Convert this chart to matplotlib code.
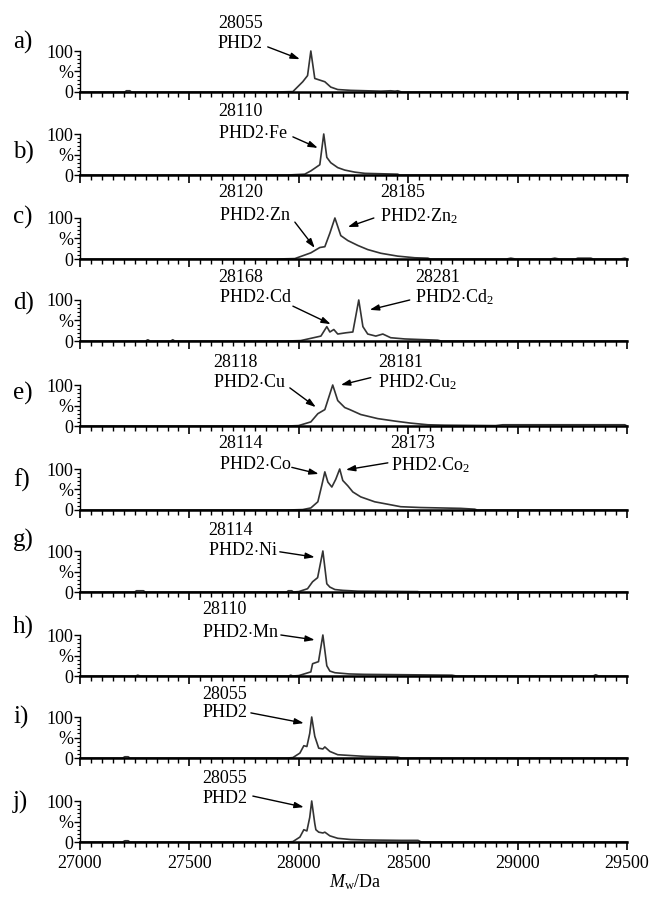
import matplotlib
matplotlib.use("Agg")
import matplotlib.pyplot as plt
from matplotlib.ticker import MultipleLocator

plt.rcParams['font.family'] = ['Liberation Serif', 'DejaVu Serif']
plt.rcParams['mathtext.fontset'] = 'custom'
plt.rcParams['mathtext.rm'] = 'Liberation Serif'
plt.rcParams['mathtext.it'] = 'Liberation Serif:italic'

# ---------------- data ----------------
panel_letters = ["a)", "b)", "c)", "d)", "e)", "f)", "g)", "h)", "i)", "j)"]

a_x = [27000, 27205, 27212, 27228, 27235, 27900, 27973, 28018, 28040, 28055, 28073, 28096, 28119, 28146, 28178, 28238, 28375, 28420, 28440, 28452, 28470, 29500]
a_y = [0, 0, 3, 3, 0, 0, 1, 25, 40, 100, 33, 29, 25, 12, 6, 4, 2, 3, 2, 3, 0, 0]

b_x = [27000, 27950, 28027, 28055, 28096, 28114, 28128, 28146, 28178, 28210, 28256, 28302, 28452, 28460, 29500]
b_y = [0, 0, 2, 10, 25, 100, 43, 30, 18, 12, 7, 4, 2, 0, 0]

c_x = [27000, 27900, 27982, 28055, 28096, 28119, 28142, 28165, 28192, 28224, 28270, 28315, 28375, 28452, 28530, 28590, 28600,
       28950, 28969, 28990, 29150, 29170, 29190, 29265, 29275, 29335, 29345, 29470, 29490, 29500]
c_y = [0, 0, 1, 15, 28, 30, 63, 100, 57, 45, 33, 23, 14, 7, 3, 2, 0,
       0, 2, 0, 0, 2, 0, 0, 2, 2, 0, 0, 2, 0]

d_x = [27000, 27300, 27310, 27320, 27415, 27424, 27433, 27950, 28009, 28101, 28128, 28142, 28160, 28178, 28215, 28247, 28274,
       28293, 28315, 28352, 28384, 28420, 28484, 28635, 28650, 29500]
d_y = [0, 0, 3, 0, 0, 3, 0, 0, 1, 12, 35, 22, 28, 17, 20, 22, 100,
       35, 17, 12, 17, 8, 5, 2, 0, 0]

e_x = [27000, 27950, 27999, 28055, 28087, 28119, 28137, 28155, 28178, 28210, 28233, 28283, 28361, 28439, 28512, 28590, 28667,
       28900, 28932, 29490, 29500]
e_y = [0, 0, 1, 10, 30, 40, 70, 100, 62, 45, 40, 28, 18, 12, 7, 3, 2,
       1, 3, 3, 0]

f_x = [27000, 27950, 28018, 28055, 28087, 28105, 28119, 28133, 28151, 28169, 28187, 28201, 28224, 28247, 28283, 28347, 28407,
       28466, 28558, 28740, 28804, 28815, 29500]
f_y = [0, 0, 1, 5, 20, 60, 93, 68, 56, 75, 100, 72, 59, 44, 32, 20, 14,
       8, 6, 4, 2, 0, 0]

g_x = [27000, 27250, 27258, 27290, 27298, 27945, 27952, 27968, 27975, 28000, 28040, 28063, 28086, 28110, 28128, 28142, 28165,
       28201, 28270, 28544, 28550, 29500]
g_y = [0, 0, 3, 3, 0, 0, 3, 3, 0, 1, 8, 25, 35, 100, 20, 12, 6,
       4, 2, 1, 0, 0]

h_x = [27000, 27255, 27264, 27275, 27955, 27963, 27972, 28000, 28055, 28063, 28090, 28110, 28128, 28142, 28165, 28230, 28300,
       28500, 28700, 28720, 29345, 29357, 29370, 29500]
h_y = [0, 0, 2, 0, 0, 2, 0, 1, 10, 30, 35, 100, 25, 12, 8, 5, 4,
       3, 2, 0, 0, 3, 0, 0]

i_x = [27000, 27195, 27205, 27220, 27228, 27950, 27973, 28005, 28023, 28037, 28050, 28059, 28073, 28091, 28110, 28119, 28142,
       28178, 28238, 28302, 28452, 28466, 29500]
i_y = [0, 0, 3, 3, 0, 0, 1, 12, 30, 28, 60, 100, 53, 24, 22, 27, 16,
       8, 6, 4, 2, 0, 0]

j_x = [27000, 27195, 27205, 27220, 27228, 27950, 27973, 28005, 28023, 28037, 28050, 28059, 28073, 28078, 28091, 28110, 28119,
       28142, 28178, 28238, 28302, 28466, 28545, 28560, 29500]
j_y = [0, 0, 3, 3, 0, 0, 1, 12, 30, 27, 60, 100, 45, 30, 24, 22, 24,
       15, 9, 6, 5, 4, 4, 0, 0]

spectra_x = [a_x, b_x, c_x, d_x, e_x, f_x, g_x, h_x, i_x, j_x]
spectra_y = [a_y, b_y, c_y, d_y, e_y, f_y, g_y, h_y, i_y, j_y]

# peak labels: (mass text, species text)
labels = [
    [("28055", "PHD2")],
    [("28110", "PHD2$\\cdot$Fe")],
    [("28120", "PHD2$\\cdot$Zn"), ("28185", "PHD2$\\cdot$Zn$_2$")],
    [("28168", "PHD2$\\cdot$Cd"), ("28281", "PHD2$\\cdot$Cd$_2$")],
    [("28118", "PHD2$\\cdot$Cu"), ("28181", "PHD2$\\cdot$Cu$_2$")],
    [("28114", "PHD2$\\cdot$Co"), ("28173", "PHD2$\\cdot$Co$_2$")],
    [("28114", "PHD2$\\cdot$Ni")],
    [("28110", "PHD2$\\cdot$Mn")],
    [("28055", "PHD2")],
    [("28055", "PHD2")],
]

# ---------------- layout (positions) ----------------
W, H = 653, 897
baselines = [92, 175, 259, 341, 426, 510, 592, 676, 758, 842]
letter_y = [42, 152, 217, 303, 393, 480, 540, 627, 717, 802]
panel_h = 41
x_left, x_right = 80, 627

# annotation layout in data units: text x, mass-row y, name-row y, arrow tail, arrow tip
ann_layout = [
    [(27630, 168, 119, (27858, 110), (28005, 80))],
    [(27630, 154, 102, (27973, 93), (28087, 66))],
    [(27634, 161, 107, (27982, 90), (28073, 27)), (28370, 161, 105, (28343, 100), (28224, 78))],
    [(27634, 156, 105, (27973, 85), (28146, 41)), (28530, 156, 107, (28507, 100), (28324, 76))],
    [(27607, 156, 107, (27959, 93), (28078, 46)), (28361, 156, 107, (28329, 118), (28192, 100))],
    [(27634, 163, 110, (27968, 104), (28091, 88)), (28420, 163, 110, (28407, 115), (28215, 98))],
    [(27584, 151, 102, (27913, 98), (28073, 85))],
    [(27557, 161, 105, (27918, 100), (28073, 88))],
    [(27561, 154, 110, (27781, 110), (28023, 85))],
    [(27561, 156, 107, (27790, 112), (28023, 85))],
]

fig = plt.figure(figsize=(W / 100, H / 100), dpi=100)
line_color = '#333333'

for k in range(10):
    base = baselines[k]
    ax = fig.add_axes([x_left / W, (H - base) / H, (x_right - x_left) / W, panel_h / H])
    ax.plot(spectra_x[k], spectra_y[k], color=line_color, lw=1.2, clip_on=False)
    ax.set_xlim(27000, 29500)
    ax.set_ylim(0, 100)
    ax.patch.set_alpha(0)
    for s in ('top', 'right'):
        ax.spines[s].set_visible(False)
    ax.spines['left'].set_linewidth(1.0)
    ax.spines['bottom'].set_linewidth(1.8)
    ax.xaxis.set_major_locator(MultipleLocator(500))
    ax.xaxis.set_minor_locator(MultipleLocator(50))
    ax.set_yticks([0, 50, 100])
    ax.set_yticklabels(['0', '%', '100'])
    ax.yaxis.set_minor_locator(MultipleLocator(10))
    ax.tick_params(axis='x', which='major', direction='out', length=6, width=1.2, labelsize=13)
    ax.tick_params(axis='x', which='minor', direction='out', length=3.5, width=1.0)
    ax.tick_params(axis='y', which='major', direction='out', length=4, width=1.0, labelsize=13, pad=1)
    ax.tick_params(axis='y', which='minor', direction='out', length=2, width=0.8)
    if k < 9:
        ax.tick_params(axis='x', labelbottom=False)

    fig.text(13 / W, 1 - letter_y[k] / H, panel_letters[k], fontsize=18, ha='left', va='center')

    for (mass, name), (tx, my, ny, tail, tip) in zip(labels[k], ann_layout[k]):
        ax.text(tx, my, mass, fontsize=13, ha='left', va='center', clip_on=False)
        ax.text(tx, ny, name, fontsize=13, ha='left', va='center', clip_on=False)
        ax.annotate('', xy=tip, xytext=tail, xycoords='data', textcoords='data',
                    arrowprops=dict(arrowstyle='-|>,head_length=0.55,head_width=0.18',
                                    color='black', lw=1.0, shrinkA=0, shrinkB=0),
                    annotation_clip=False)

fig.text(355 / W, 1 - 882 / H, '$M_{\\mathrm{w}}$/Da', fontsize=13, ha='center', va='center')

fig.savefig('out.png', dpi=100)
